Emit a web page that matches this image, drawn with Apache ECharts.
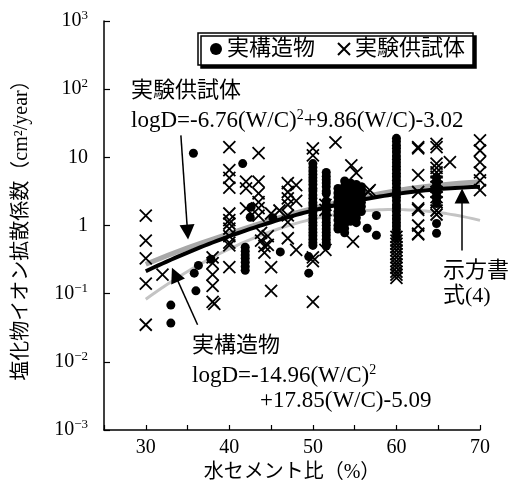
<!DOCTYPE html>
<html>
<head>
<meta charset="utf-8">
<script src="https://cdn.jsdelivr.net/npm/echarts@6/dist/echarts.min.js"></script>
<style>
html, body { margin: 0; padding: 0; background: #fff; }
#chart { width: 512px; height: 494px; }
</style>
</head>
<body>
<div id="chart"></div>
<script>
// 実構造物: [水セメント比 (%), 拡散係数 (cm2/year)]
const structureDots = [
  [33, 0.068], [33, 0.037], [35.7, 11.5], [35.8, 0.20], [36, 0.11], [36.3, 0.26], [37.8, 0.32],
  [41.6, 8.1], [41.9, 0.48], [41.9, 0.42], [41.9, 0.37], [41.9, 0.33], [41.9, 0.29], [41.9, 0.25], [41.9, 0.22],
  [42.5, 1.32], [42.6, 1.86], [45.2, 1.3], [46.1, 0.41], [49.5, 0.35], [49.5, 0.20],
  [50, 8.1], [50, 7.1], [50, 6.3], [50, 5.6], [50, 5.0], [50, 4.5], [50, 4.0], [50, 3.5], [50, 3.2], [50, 2.8],
  [50, 2.5], [50, 2.2], [50, 2.0], [50, 1.78], [50, 1.58], [50, 1.41], [50, 1.26], [50, 1.12], [50, 1.0],
  [50, 0.89], [50, 0.79], [50, 0.71], [50, 0.63], [50, 0.56], [50, 0.51],
  [51.6, 6.0], [51.6, 5.3], [51.6, 4.7], [51.6, 4.2], [51.6, 3.7], [51.6, 3.2], [51.6, 2.95],
  [51.6, 2.3], [51.6, 2.0], [51.6, 1.78], [51.6, 1.58], [51.6, 1.41], [51.6, 1.26], [51.6, 1.12],
  [51.6, 1.0], [51.6, 0.89], [51.6, 0.79], [51.6, 0.71], [51.6, 0.63], [51.6, 0.56], [51.6, 0.5],
  [53, 3.5], [53, 3.0], [53, 2.6], [53, 2.2], [53, 1.9], [53, 1.6], [53, 1.4], [53, 1.2], [53, 1.0], [53, 0.89],
  [53.8, 4.5], [53.8, 3.8], [53.8, 3.2], [53.8, 2.7], [53.8, 2.3], [53.8, 2.0], [53.8, 1.7], [53.8, 1.45],
  [53.8, 1.25], [53.8, 1.05], [53.8, 0.9], [53.8, 0.78],
  [54.5, 4.2], [54.5, 3.6], [54.5, 3.0], [54.5, 2.6], [54.5, 2.2], [54.5, 1.9], [54.5, 1.6], [54.5, 1.35], [54.5, 1.15],
  [55.2, 4.0], [55.2, 3.4], [55.2, 2.9], [55.2, 2.5], [55.2, 2.1], [55.2, 1.8], [55.2, 1.5], [55.2, 1.3], [55.2, 1.1],
  [55.8, 3.7], [55.8, 3.1], [55.8, 2.6], [55.8, 2.2], [55.8, 1.9], [55.8, 1.6],
  [56.5, 0.91], [57.6, 1.4], [57.6, 0.72],
  [60, 19], [60, 17], [60, 15], [60, 13.5], [60, 12], [60, 10.5], [60, 9.3], [60, 8.3], [60, 7.4], [60, 6.6],
  [60, 5.8], [60, 5.2], [60, 4.6], [60, 4.1], [60, 3.6], [60, 3.2], [60, 2.9], [60, 2.6], [60, 2.3], [60, 2.0],
  [60, 1.8], [60, 1.6], [60, 1.4], [60, 1.25], [60, 1.1], [60, 0.98], [60, 0.87], [60, 0.77], [60, 0.68],
  [64.8, 5.0], [64.8, 4.2], [64.8, 3.5], [64.8, 3.0], [64.8, 2.5], [64.8, 2.1], [64.8, 1.07], [64.8, 0.77]
];

// 実験供試体: [水セメント比 (%), 拡散係数 (cm2/year)]
const specimenCrosses = [
  [30, 1.4], [30, 0.6], [30, 0.33], [30, 0.14], [30, 0.035], [32, 0.19],
  [38, 0.34], [38, 0.28], [38, 0.19], [38, 0.13], [38, 0.076], [38.2, 0.071],
  [40, 14.1], [40, 6.5], [40, 5.0], [40, 3.6], [40, 1.5], [40, 1.2], [40, 1.07], [40, 0.9], [40, 0.7],
  [40, 0.56], [40, 0.51], [40, 0.245],
  [42, 3.5], [42, 1.78], [42, 4.4],
  [43.5, 11.5], [43.5, 4.4], [43.5, 2.95], [43.5, 2.2], [43.5, 1.8], [43.5, 1.4],
  [43.8, 0.78], [43.8, 0.6], [44.2, 0.5], [44.2, 0.4], [44.6, 0.7], [44.6, 0.52],
  [45, 1.5], [45, 0.245], [45, 0.11], [46, 1.66],
  [47, 4.2], [47, 3.1], [47, 2.5], [47, 2.0], [47, 1.41], [47, 1.12], [47, 0.65],
  [48, 3.9], [48, 2.3], [48, 0.44],
  [50, 13.5], [50, 10.7], [50, 0.34], [50, 0.3], [50, 0.076],
  [51.5, 2.0], [51.5, 1.7], [51.5, 0.44], [52.7, 16.6],
  [54.6, 7.6], [55.2, 5.9], [54.8, 0.58], [56.6, 3.1], [56.8, 3.3],
  [60, 0.68], [60, 0.6], [60, 0.54], [60, 0.48], [60, 0.43], [60, 0.38], [60, 0.34], [60, 0.3],
  [60, 0.27], [60, 0.24], [60, 0.21], [60, 0.19], [60, 0.17],
  [62.6, 14.1], [62.6, 13.5], [62.6, 5.5], [62.6, 3.1], [62.6, 1.78], [62.6, 1.7], [62.6, 1.0], [62.6, 0.76], [62.6, 0.74],
  [64.8, 15.8], [64.8, 14.1], [64.8, 8.1], [64.8, 7.0], [64.8, 6.0], [64.8, 5.2], [64.8, 4.4], [64.8, 3.7],
  [64.8, 3.1], [64.8, 2.6], [64.8, 2.2], [64.8, 1.66], [64.8, 1.45],
  [66.4, 8.5],
  [70, 17.8], [70, 12.6], [70, 8.5], [70, 6.0], [70, 4.6], [70, 3.3]
];

// 回帰式の係数 logD = a(W/C)^2 + b(W/C) + c
const specimenCoef = [-6.76, 9.86, -3.02];
const structureCoef = [-14.96, 17.85, -5.09];

// 示方書式(4)の曲線
const codeWC = [30, 35, 40, 45, 50, 55, 60, 65, 70];
const codeD = [0.27, 0.47, 0.76, 1.2, 1.78, 2.45, 3.24, 3.9, 4.4];

// 矢印 [始点, 終点]
const arrowSpecimen = [[34.2, 21], [35.0, 0.8]];
const arrowStructure = [[36.2, 0.035], [33.5, 0.19]];
const arrowCode = [[67.85, 0.43], [67.85, 2.7]];

const wcRange = [];
for (let wc = 30; wc <= 70; wc += 1) wcRange.push(wc);

function regressionCurve(coef) {
  return wcRange.map(function (wc) {
    const w = wc / 100;
    return [wc, Math.pow(10, coef[0] * w * w + coef[1] * w + coef[2])];
  });
}

const SERIF = '"Liberation Serif", "Noto Sans CJK JP", serif';
const CROSS = 'path://M0,0L10,10M10,0L0,10';

function supText(e) {
  return e < 0 ? '\u2212' + (-e) : String(e);
}

const chart = echarts.init(document.getElementById('chart'), null, { renderer: 'canvas' });

const supRich = {
  a: { fontFamily: SERIF, fontSize: 23, lineHeight: 26, color: '#000' },
  s: { fontFamily: SERIF, fontSize: 14, lineHeight: 14, verticalAlign: 'top', color: '#000' }
};

function label(x, y, text, size) {
  return {
    type: 'text', left: x, top: y, silent: true,
    style: { text: text, font: (size || 22) + 'px ' + SERIF, fill: '#000' }
  };
}
function richLabel(x, y, text) {
  return {
    type: 'text', left: x, top: y, silent: true,
    style: { text: text, rich: supRich, fill: '#000' }
  };
}

chart.setOption({
  backgroundColor: '#fff',
  animation: false,
  grid: { left: 104, right: 32, top: 21, bottom: 64, containLabel: false },
  legend: {
    left: 198, top: 33,
    padding: [5, 8, 5, 12],
    itemGap: 22,
    itemWidth: 12, itemHeight: 12,
    borderColor: '#000', borderWidth: 1.5,
    backgroundColor: '#fff',
    shadowColor: '#000', shadowOffsetX: 3, shadowOffsetY: 3, shadowBlur: 0,
    textStyle: { fontFamily: SERIF, fontSize: 22, color: '#000' },
    data: [
      { name: '実構造物', icon: 'circle' },
      { name: '実験供試体', icon: CROSS }
    ]
  },
  xAxis: {
    type: 'value', min: 25, max: 70, interval: 5,
    name: '水セメント比（%）', nameLocation: 'middle', nameGap: 30,
    nameTextStyle: { fontFamily: SERIF, fontSize: 20, color: '#000' },
    axisLine: { lineStyle: { color: '#000', width: 1.5 } },
    axisTick: { inside: true, length: 5, lineStyle: { color: '#000', width: 1.2 } },
    axisLabel: {
      margin: 8, fontFamily: SERIF, fontSize: 20, color: '#000',
      formatter: function (v) { return (v >= 30 && v % 10 === 0) ? String(v) : ''; }
    },
    splitLine: { show: false }
  },
  yAxis: {
    type: 'log', logBase: 10, min: 0.001, max: 1000,
    name: '塩化物イオン拡散係数（cm²/year）', nameLocation: 'middle', nameGap: 72, nameRotate: 90,
    nameTextStyle: { fontFamily: SERIF, fontSize: 20, color: '#000' },
    axisLine: { show: true, lineStyle: { color: '#000', width: 1.5 } },
    axisTick: { inside: true, length: 6, lineStyle: { color: '#000', width: 1.2 } },
    axisLabel: {
      margin: 16, color: '#000',
      formatter: function (v) {
        const e = Math.round(Math.log10(v));
        if (e === 0) return '{b|1}';
        if (e === 1) return '{b|10}';
        return '{b|10}{s|' + supText(e) + '}';
      },
      rich: {
        b: { fontFamily: SERIF, fontSize: 20, lineHeight: 24, color: '#000' },
        s: { fontFamily: SERIF, fontSize: 13, lineHeight: 13, verticalAlign: 'top', color: '#000' }
      }
    },
    splitLine: { show: false }
  },
  series: [
    {
      name: '示方書式(4)', type: 'line', data: codeWC.map(function (w, i) { return [w, codeD[i]]; }),
      smooth: true, symbol: 'none', z: 1, silent: true,
      lineStyle: { color: '#a8a8a8', width: 5 }
    },
    {
      name: '実構造物回帰', type: 'line', data: regressionCurve(structureCoef),
      smooth: true, symbol: 'none', z: 1, silent: true,
      lineStyle: { color: '#c4c4c4', width: 3 }
    },
    {
      name: '実構造物', type: 'scatter', data: structureDots, z: 2,
      symbol: 'circle', symbolSize: 9,
      itemStyle: { color: '#000', opacity: 1 }
    },
    {
      name: '実験供試体', type: 'scatter', data: specimenCrosses, z: 2,
      symbol: CROSS, symbolSize: 12,
      itemStyle: { color: 'rgba(0,0,0,0)', borderColor: '#000', borderWidth: 1.8, opacity: 1 }
    },
    {
      name: '実験供試体回帰', type: 'line', data: regressionCurve(specimenCoef),
      smooth: true, symbol: 'none', z: 3, silent: true,
      lineStyle: { color: '#000', width: 4 },
      markLine: {
        silent: true, animation: false,
        symbol: ['none', 'triangle'],
        symbolSize: 15,
        label: { show: false },
        lineStyle: { color: '#000', width: 1.5, type: 'solid' },
        itemStyle: { color: '#000' },
        emphasis: { disabled: true },
        data: [arrowSpecimen, arrowStructure, arrowCode].map(function (a) {
          return [{ coord: a[0] }, { coord: a[1] }];
        })
      }
    }
  ],
  graphic: [
    label(131, 80, '実験供試体'),
    richLabel(131, 108, '{a|logD=-6.76(W/C)}{s|2}{a|+9.86(W/C)-3.02}'),
    label(192, 335, '実構造物'),
    richLabel(192, 363, '{a|logD=-14.96(W/C)}{s|2}'),
    richLabel(260, 389, '{a|+17.85(W/C)-5.09}'),
    label(443, 260, '示方書'),
    label(443, 285, '式(4)')
  ]
});
</script>
</body>
</html>
